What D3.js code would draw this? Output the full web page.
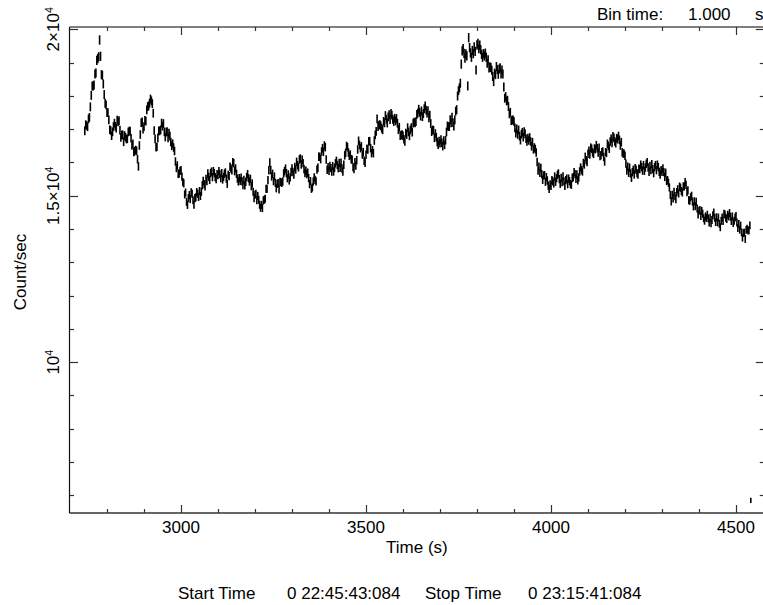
<!DOCTYPE html>
<html><head><meta charset="utf-8">
<script src="https://cdn.jsdelivr.net/npm/d3@7"></script>
<style>
html,body{margin:0;padding:0;background:#fff;}
svg{display:block;font-family:"Liberation Sans",Arial,Helvetica,sans-serif;}
</style></head><body>
<svg id="chart" width="763" height="605"></svg>
<script>
// Light curve: count rate of 1 s bins, listed every sampleStep seconds
const binTime = 1.0;
const firstTime = 2740;
const sampleStep = 2.5;
const rates = [
16950,17135,17110,17075,17310,17355,17670,18015,18300,18300,
18330,18660,18690,19070,19120,19175,19680,19190,18640,18620,
18360,18040,17780,17730,17500,17495,17280,16985,16960,16805,
16920,17080,17180,17090,17030,17275,17220,17260,16970,16750,
16830,16830,16620,16810,16760,16705,16710,16915,16940,16940,
16730,16510,16560,16315,16340,16375,16350,16100,15880,16510,
16840,17195,17220,17000,17080,17265,17240,17580,17680,17700,
17780,17905,17850,17770,17480,16960,16710,16455,16470,16740,
16950,16950,16980,17185,17090,17170,16920,16765,16910,16930,
16740,16885,16790,16615,16500,16565,16450,16345,16030,15835,
15910,15655,15670,15750,15770,15575,15410,15375,15040,15095,
14820,14725,14930,15020,14900,15100,15060,14865,14730,14930,
14950,15110,15060,14965,15140,14995,15120,15315,15450,15350,
15280,15510,15440,15670,15570,15475,15680,15725,15560,15740,
15680,15560,15500,15650,15620,15740,15650,15530,15680,15490,
15570,15665,15700,15515,15360,15625,15590,15870,15820,15765,
16010,15980,15740,15820,15660,15515,15430,15530,15450,15545,
15430,15320,15480,15315,15420,15565,15650,15525,15430,15510,
15290,15370,15120,14925,15030,15055,14870,14995,14880,14730,
14640,14725,14630,14860,14880,14910,15210,15205,15470,15765,
16000,15775,15580,15660,15440,15580,15390,15225,15360,15380,
15190,15420,15410,15390,15430,15675,15740,15815,15680,15525,
15640,15460,15550,15715,15820,15715,15640,15865,15790,16020,
15920,15855,16090,16120,15940,16080,15980,15800,15680,15755,
15650,15695,15530,15350,15440,15210,15250,15430,15550,15475,
15430,15785,15840,16170,16170,16100,16330,16430,16320,16510,
16460,16090,15780,15855,15750,15895,15830,15725,15890,15730,
15840,15975,16050,15925,15830,15985,15840,15995,15820,15725,
15930,16215,16290,16495,16460,16300,16200,16240,16100,16085,
15860,15800,16010,15905,16070,16390,16650,16525,16430,16485,
16240,16310,16050,15990,16230,16415,16390,16635,16640,16430,
16280,16370,16280,16660,16830,16935,17310,17080,17120,17140,
17100,17025,16980,17235,17190,17410,17300,17185,17370,17435,
17290,17475,17420,17295,17230,17330,17250,17320,17180,16985,
17060,16805,16820,16840,16800,16700,16630,16885,16840,17045,
16920,16800,16980,17050,16910,17180,17210,17190,17230,17445,
17480,17600,17510,17395,17550,17375,17470,17615,17700,17575,
17480,17560,17340,17420,17170,16925,16980,16965,16740,16870,
16760,16615,16530,16645,16580,16690,16590,16490,16660,16530,
16670,16915,17100,17075,17080,17285,17190,17360,17200,17090,
17280,17540,17590,17995,18160,18240,18380,18955,19350,19420,
19280,19135,19260,19205,18300,19750,19450,19290,19160,19365,
19270,19470,19340,18780,19530,19580,19420,19525,19390,19245,
19160,19270,19200,19285,19160,18985,19080,18840,18870,18850,
18770,18585,18430,18685,18640,18880,18790,18650,18810,18840,
18660,18780,18660,18265,17930,17980,17850,17870,17680,17460,
17510,17255,17270,17280,17230,17040,16880,17010,16840,16980,
16790,16670,16850,16910,16760,16930,16860,16715,16630,16735,
16660,16750,16630,16485,16610,16395,16450,16405,16300,16015,
15760,15875,15690,15835,15650,15480,15610,15620,15420,15560,
15460,15305,15210,15345,15300,15470,15430,15370,15580,15420,
15530,15630,15670,15500,15360,15535,15410,15585,15430,15300,
15470,15515,15350,15515,15440,15355,15330,15535,15560,15710,
15650,15510,15640,15460,15550,15730,15850,15775,15730,15985,
15940,16170,16070,16015,16260,16355,16240,16445,16410,16305,
16260,16420,16400,16520,16430,16300,16440,16195,16220,16305,
16330,16165,16030,16310,16290,16560,16500,16415,16630,16715,
16590,16785,16740,16630,16580,16730,16700,16795,16680,16510,
16610,16305,16270,16265,16200,15965,15760,15875,15690,15845,
15670,15540,15710,15780,15640,15830,15780,15680,15640,15810,
15800,15935,15860,15755,15920,15750,15850,15960,16010,15850,
15720,15895,15770,15950,15800,15680,15860,15920,15770,15935,
15860,15720,15640,15770,15720,15820,15710,15565,15690,15445,
15470,15390,15250,15025,14830,15025,14920,15120,14990,14900,
15110,15195,15070,15275,15240,15140,15100,15280,15280,15410,
15330,15110,15160,14870,14850,14955,15000,14825,14680,14835,
14690,14820,14620,14435,14550,14575,14390,14545,14460,14325,
14250,14380,14330,14430,14320,14195,14340,14170,14270,14415,
14500,14340,14210,14355,14200,14345,14160,14055,14250,14350,
14240,14460,14440,14340,14300,14430,14380,14480,14370,14240,
14380,14180,14250,14350,14390,14195,14030,14155,13980,14105,
13900,13740,13880,13895,13700,13975,14010,13955,13960,14110
];
// last, partially exposed bin
const finalBin = {time: 4540, rate: 5850};

const xDomain = [2700, 4575];
const yDomain = [5470, 20070];
const xMajor = [3000, 3500, 4000, 4500];
const xLabels = ["3000", "3500", "4000", "4500"];
const yMajor = [10000, 15000, 20000];
const yLabels = [["10", "4"], ["1.5\u00d710", "4"], ["2\u00d710", "4"]];

const svg = d3.select("#chart");
const plotLeft = 70, plotRight = 763.75, plotTop = 27, plotBottom = 513;
const x = d3.scaleLinear().domain(xDomain).range([plotLeft, plotRight]);
const y = d3.scaleLinear().domain(yDomain).range([plotBottom, plotTop]);

// error-bar points (Poisson error of each 1 s bin)
const points = rates.map((r, i) => ({t: firstTime + i * sampleStep, r}));
points.push({t: finalBin.time, r: finalBin.rate});

const g = svg.append("g");
g.selectAll("line.bin").data(points).enter().append("line")
  .attr("class", "bin")
  .attr("x1", d => x(d.t)).attr("x2", d => x(d.t))
  .attr("y1", d => y(d.r - Math.sqrt(d.r * binTime) / binTime))
  .attr("y2", d => y(d.r + Math.sqrt(d.r * binTime) / binTime))
  .attr("stroke", "#000").attr("stroke-width", 1.6);

// frame
const frame = svg.append("g");
frame.append("line").attr("x1", plotLeft - 0.5).attr("x2", 770).attr("y1", plotTop).attr("y2", plotTop)
  .attr("stroke", "#555").attr("stroke-width", 1.6);
frame.append("line").attr("x1", plotLeft - 0.5).attr("x2", 770).attr("y1", plotBottom).attr("y2", plotBottom)
  .attr("stroke", "#666").attr("stroke-width", 2);
frame.append("line").attr("x1", plotLeft - 0.5).attr("x2", plotLeft - 0.5).attr("y1", plotTop).attr("y2", plotBottom)
  .attr("stroke", "#111").attr("stroke-width", 1.2);
frame.append("line").attr("x1", plotRight + 0.5).attr("x2", plotRight + 0.5).attr("y1", plotTop).attr("y2", plotBottom)
  .attr("stroke", "#111").attr("stroke-width", 1.2);

// x ticks, top and bottom, pointing inward
const xMinor = d3.range(2800, 4576, 100);
xMinor.forEach(v => {
  const len = xMajor.includes(v) ? 8 : 4;
  const px = Math.round(x(v)) + 0.5;
  frame.append("line").attr("x1", px).attr("x2", px).attr("y1", plotBottom).attr("y2", plotBottom - len)
    .attr("stroke", "#333").attr("stroke-width", 1.2);
  frame.append("line").attr("x1", px).attr("x2", px).attr("y1", plotTop).attr("y2", plotTop + len)
    .attr("stroke", "#333").attr("stroke-width", 1.2);
});
// y ticks, left and right
const yMinor = d3.range(6000, 20001, 1000);
yMinor.forEach(v => {
  const len = yMajor.includes(v) ? 8 : 4;
  const py = Math.round(y(v)) + 0.5;
  frame.append("line").attr("x1", plotLeft).attr("x2", plotLeft + len).attr("y1", py).attr("y2", py)
    .attr("stroke", "#333").attr("stroke-width", 1.2);
  frame.append("line").attr("x1", plotRight).attr("x2", plotRight - len).attr("y1", py).attr("y2", py)
    .attr("stroke", "#333").attr("stroke-width", 1.2);
});

const fs = 17;
// x tick labels
svg.append("g").selectAll("text").data(xMajor).enter().append("text")
  .attr("x", d => x(d)).attr("y", 533).attr("text-anchor", "middle")
  .attr("font-size", fs).text((d, i) => xLabels[i]);

// y tick labels with exponent
yMajor.forEach((v, i) => {
  const t = svg.append("text")
    .attr("transform", `translate(59,${y(v)}) rotate(-90)`)
    .attr("text-anchor", "middle").attr("font-size", fs);
  t.append("tspan").text(yLabels[i][0]);
  t.append("tspan").attr("font-size", 10.5).attr("dy", -6).text(yLabels[i][1]);
});

// axis titles
svg.append("text").attr("x", (plotLeft + plotRight) / 2).attr("y", 553).attr("text-anchor", "middle")
  .attr("font-size", fs).text("Time (s)");
svg.append("text").attr("transform", "translate(26,272) rotate(-90)").attr("text-anchor", "middle")
  .attr("font-size", fs).text("Count/sec");

// header and footer annotations
svg.append("text").attr("x", 597).attr("y", 20).attr("font-size", fs).text("Bin time:");
svg.append("text").attr("x", 688).attr("y", 20).attr("font-size", fs).text("1.000");
svg.append("text").attr("x", 755).attr("y", 20).attr("font-size", fs).text("s");
svg.append("text").attr("x", 178).attr("y", 599).attr("font-size", fs).text("Start Time");
svg.append("text").attr("x", 287).attr("y", 599).attr("font-size", fs).text("0 22:45:43:084");
svg.append("text").attr("x", 425).attr("y", 599).attr("font-size", fs).text("Stop Time");
svg.append("text").attr("x", 528).attr("y", 599).attr("font-size", fs).text("0 23:15:41:084");
</script>
</body></html>
